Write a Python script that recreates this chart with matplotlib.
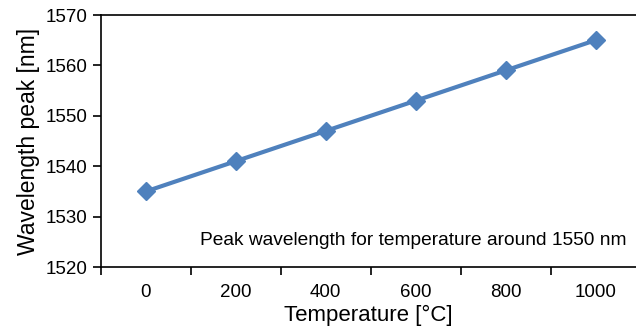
import matplotlib.pyplot as plt

plt.rcParams['font.family'] = ['Liberation Sans', 'DejaVu Sans']

temps = ["0", "200", "400", "600", "800", "1000"]
peaks = [1535, 1541, 1547, 1553, 1559, 1565]

fig = plt.figure(figsize=(6.36, 3.31), dpi=100)
ax = fig.add_axes([101/636, 64/331, 535/636, 252/331])

xs = range(len(temps))
ax.plot(xs, peaks, color="#4F81BD", linewidth=3, marker="D", markersize=9.5)

ax.set_xlim(-0.5, 5.45)
ax.set_ylim(1520, 1570)
ax.set_yticks(range(1520, 1571, 10))
ax.set_xticks([i - 0.5 for i in range(len(temps))])
ax.set_xticklabels([])
ax.set_xticks(list(xs), minor=True)
ax.set_xticklabels(temps, minor=True)
ax.tick_params(axis="x", which="minor", length=0, labelsize=13.5, pad=12)
ax.tick_params(axis="x", which="major", length=6, width=1.2, direction="out")
ax.tick_params(axis="y", length=6, width=1.2, direction="out", labelsize=13.5, pad=4)

ax.spines["right"].set_visible(False)
for s in ["left", "bottom", "top"]:
    ax.spines[s].set_linewidth(1.2)

ax.set_xlabel("Temperature [°C]", fontsize=16, labelpad=3)
ax.set_ylabel("Wavelength peak [nm]", fontsize=16.5, labelpad=4)

ax.text(5.345, 1525.3, "Peak wavelength for temperature around 1550 nm",
        ha="right", va="center", fontsize=13.8)

fig.savefig("out.png", dpi=100)
